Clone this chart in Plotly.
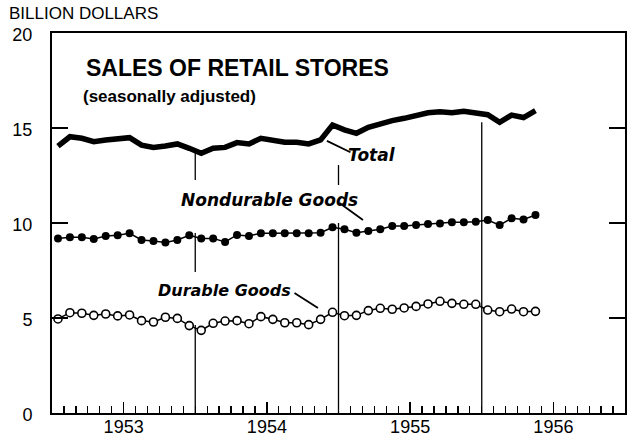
import plotly.graph_objects as go

# Monthly data, Jan 1953 - May 1956 (billion dollars, seasonally adjusted)
months = [f"{y}-{m:02d}" for y in (1953, 1954, 1955, 1956) for m in range(1, 13)][:41]

total = [14.05, 14.54, 14.46, 14.28, 14.37, 14.46, 14.49, 14.10, 13.98, 14.05, 14.16, 13.93,
         13.67, 13.93, 13.98, 14.23, 14.16, 14.46, 14.37, 14.25, 14.25, 14.16, 14.37, 15.16,
         14.90, 14.72, 15.04, 15.25, 15.39, 15.51, 15.65, 15.80, 15.85, 15.80, 15.88, 15.80,
         15.70, 15.30, 15.68, 15.55, 15.92]

nondurable = [9.19, 9.25, 9.25, 9.16, 9.32, 9.35, 9.46, 9.11, 9.05, 8.98, 9.11, 9.35,
              9.19, 9.19, 9.00, 9.37, 9.32, 9.46, 9.46, 9.46, 9.46, 9.46, 9.49, 9.77,
              9.67, 9.49, 9.58, 9.67, 9.84, 9.84, 9.89, 9.95, 9.98, 10.04, 10.04, 10.07,
              10.16, 9.89, 10.25, 10.19, 10.42]

durable = [4.95, 5.28, 5.25, 5.14, 5.21, 5.11, 5.16, 4.86, 4.79, 5.04, 4.98, 4.60,
           4.35, 4.72, 4.84, 4.86, 4.70, 5.07, 4.93, 4.75, 4.75, 4.65, 4.93, 5.30,
           5.12, 5.14, 5.39, 5.51, 5.46, 5.53, 5.61, 5.74, 5.88, 5.77, 5.72, 5.72,
           5.42, 5.33, 5.47, 5.33, 5.35]

year_labels = ["1953", "1954", "1955", "1956"]
y_ticks = [0, 5, 10, 15, 20]

# x position: month index measured from Jan 1953, plotted at mid-month
xpos = [i + 0.5 for i in range(len(months))]

FONT = "Liberation Sans"
AFONT = "DejaVu Sans"
fig = go.Figure()

# year divider lines (drawn in segments, as in the original artwork)
segments = [(12, 0, 4.63), (12, 7.42, 9.47), (12, 12.26, 13.68),
            (24, 0, 10.0), (24, 12.0, 13.05),
            (36, 0, 15.3)]
for xv, y0, y1 in segments:
    fig.add_shape(type="line", x0=xv, x1=xv, y0=y0, y1=y1, xref="x", yref="y",
                  line=dict(color="black", width=1.3), layer="below")

fig.add_trace(go.Scatter(x=xpos, y=total, mode="lines",
                         line=dict(color="black", width=5.5), hoverinfo="skip"))
fig.add_trace(go.Scatter(x=xpos, y=nondurable, mode="lines+markers",
                         line=dict(color="black", width=1.5),
                         marker=dict(symbol="circle", size=8, color="black"),
                         hoverinfo="skip"))
fig.add_trace(go.Scatter(x=xpos, y=durable, mode="lines+markers",
                         line=dict(color="black", width=1.5),
                         marker=dict(symbol="circle", size=8, color="white",
                                     line=dict(color="black", width=1.6)),
                         hoverinfo="skip"))

ann = []
ann.append(dict(text="BILLION DOLLARS", xref="paper", yref="paper", x=-0.078, y=(413 - 13) / 380,
                xanchor="left", yanchor="middle", showarrow=False,
                font=dict(family=FONT, size=17, color="black")))
ann.append(dict(text="<b>SALES OF RETAIL STORES</b>", xref="paper", yref="paper",
                x=(84 - 52) / 573, y=(413 - 68) / 380, xanchor="left", yanchor="middle",
                showarrow=False, font=dict(family=FONT, size=23, color="black")))
ann.append(dict(text="<b>(seasonally adjusted)</b>", xref="paper", yref="paper",
                x=(81 - 52) / 573, y=(413 - 97) / 380, xanchor="left", yanchor="middle",
                showarrow=False, font=dict(family=FONT, size=17, color="black")))

ann.append(dict(text="<b><i>Total</i></b>", x=26.8, y=13.58, xref="x", yref="y",
                showarrow=False, font=dict(family=AFONT, size=17, color="black")))
ann.append(dict(text="<b><i>Nondurable Goods</i></b>", x=18.26, y=11.21, xref="x", yref="y",
                showarrow=False, font=dict(family=AFONT, size=17, color="black")))
ann.append(dict(text="<b><i>Durable Goods</i></b>", x=14.49, y=6.47, xref="x", yref="y",
                showarrow=False, font=dict(family=AFONT, size=16, color="black")))
# leader lines
for tx, ty, ax, ay in [(23.03, 14.32, 25, 12), (26.05, 10.16, -25, -18), (22.28, 5.53, -25, -16)]:
    ann.append(dict(text="", x=tx, y=ty, xref="x", yref="y", ax=ax, ay=ay,
                    showarrow=True, arrowhead=0, arrowwidth=1.8, arrowcolor="black",
                    standoff=0, startstandoff=0))

fig.update_layout(
    width=629, height=436,
    margin=dict(l=52, r=4, t=33, b=23, autoexpand=False),
    paper_bgcolor="white", plot_bgcolor="white",
    showlegend=False,
    annotations=ann,
    font=dict(family=FONT, color="black"),
)
fig.update_xaxes(
    range=[0, 48], showgrid=False, zeroline=False, automargin=False,
    showline=True, linecolor="black", linewidth=2, mirror=True,
    tickmode="array", tickvals=[6, 18, 30, 42], ticktext=year_labels,
    ticks="inside", ticklen=11, tickwidth=1.3, tickcolor="black",
    tickfont=dict(family=FONT, size=18, color="black"),
    ticklabelstandoff=-4,
    minor=dict(ticks="inside", dtick=1, tick0=0, ticklen=7, tickwidth=1.3,
               tickcolor="black", showgrid=False),
)
fig.update_yaxes(
    range=[0, 20], showgrid=False, zeroline=False, automargin=False,
    showline=True, linecolor="black", linewidth=2, mirror="ticks",
    tickmode="array", tickvals=y_ticks, ticktext=[str(v) for v in y_ticks],
    ticks="inside", ticklen=16, tickwidth=1.3, tickcolor="black",
    tickfont=dict(family=FONT, size=18, color="black"),
    ticklabelstandoff=14, ticklabelshift=2,
)

fig.write_html("out.html", config={"displayModeBar": False, "staticPlot": True},
               post_script="document.body.style.margin='0px';document.body.style.overflow='hidden';")
